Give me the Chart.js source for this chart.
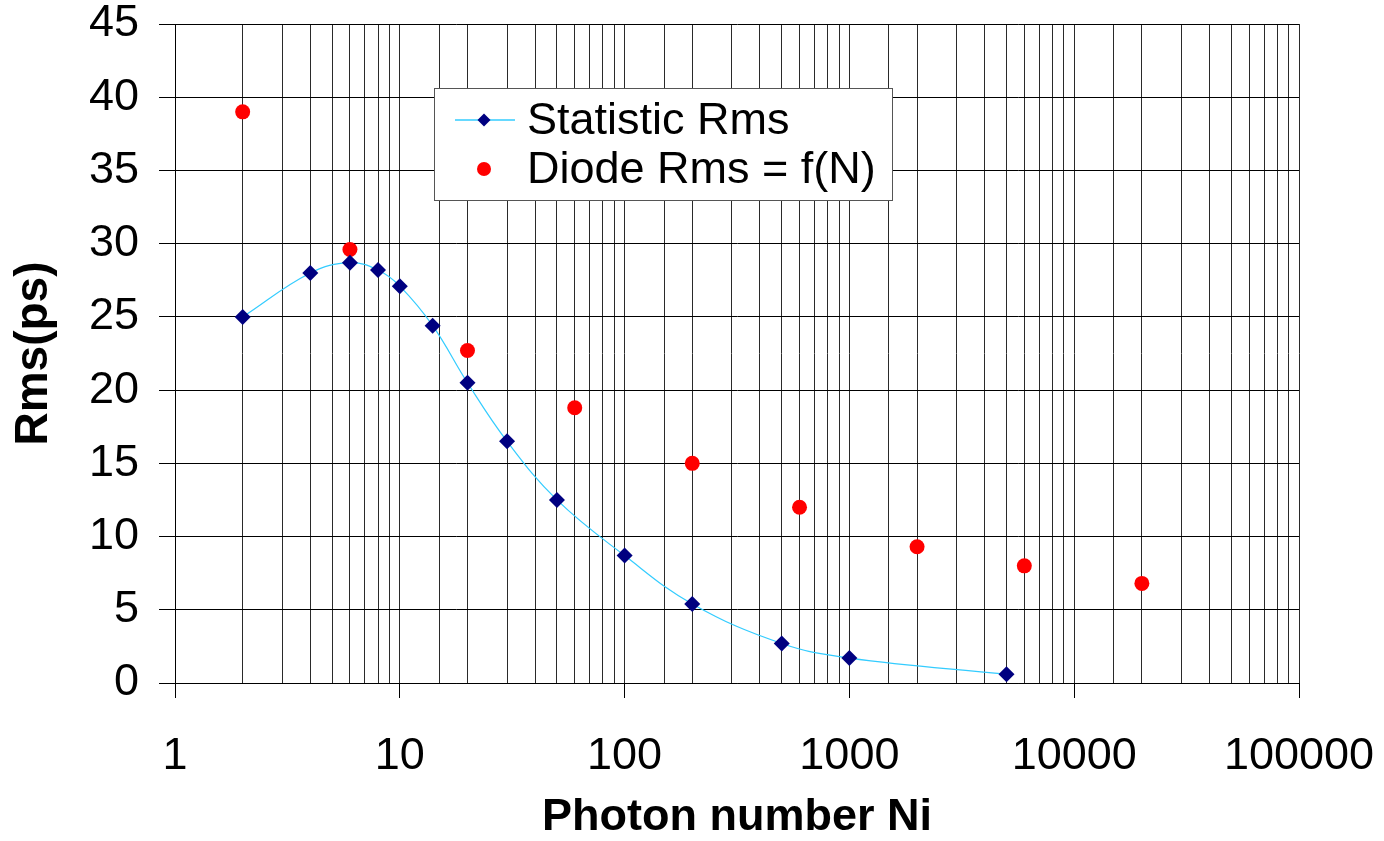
<!DOCTYPE html>
<html>
<head>
<meta charset="utf-8">
<script src="https://cdn.jsdelivr.net/npm/chart.js@4.4.1/dist/chart.umd.min.js"></script>
<style>
    html, body { margin: 0; padding: 0; background: #fff; }
    #wrap { width: 1384px; height: 841px; }
</style>
</head>
<body>
<div id="wrap"><canvas id="rmsChart" width="1384" height="841"></canvas></div>
<script>
// Statistic Rms (blue diamonds + smooth line)
const statN = [2, 4, 6, 8, 10, 14, 20, 30, 50, 100, 200, 500, 1000, 5000];
const statRms = [25.0, 28.0, 28.7, 28.2, 27.1, 24.4, 20.5, 16.5, 12.5, 8.7, 5.4, 2.7, 1.7, 0.6];

// Diode Rms = f(N) (red dots)
const diodeN = [2, 6, 20, 60, 200, 600, 2000, 6000, 20000];
const diodeRms = [39.0, 29.6, 22.7, 18.8, 15.0, 12.0, 9.3, 8.0, 6.8];

const xTickLabels = [1, 10, 100, 1000, 10000, 100000];
const yTicks = [0, 5, 10, 15, 20, 25, 30, 35, 40, 45];

const FONT = '"Liberation Sans", Arial, sans-serif';
const LINE_COLOR = '#33ccff';
const DIAMOND_COLOR = '#000080';
const DOT_COLOR = '#ff0000';

function toPoints(xs, ys) {
    return xs.map((x, i) => ({ x: x, y: ys[i] }));
}

// legend drawn inside the plot, like the original
const innerLegend = {
    id: 'innerLegend',
    afterDraw(chart) {
        const ctx = chart.ctx;
        const area = chart.chartArea;
        const left = area.left + 259;
        const top = area.top + 64;
        const w = 458;
        const h = 112;
        ctx.save();
        ctx.fillStyle = '#fff';
        ctx.fillRect(left, top, w, h);
        ctx.strokeStyle = '#555';
        ctx.lineWidth = 1;
        ctx.strokeRect(left + 0.5, top + 0.5, w, h);

        const row1 = top + 32;
        const row2 = top + 81;
        const symX = left + 50;

        // line sample
        ctx.strokeStyle = LINE_COLOR;
        ctx.lineWidth = 1.5;
        ctx.beginPath();
        ctx.moveTo(left + 21, row1);
        ctx.lineTo(left + 81, row1);
        ctx.stroke();

        // diamond
        ctx.fillStyle = DIAMOND_COLOR;
        ctx.beginPath();
        ctx.moveTo(symX, row1 - 6.5);
        ctx.lineTo(symX + 6.5, row1);
        ctx.lineTo(symX, row1 + 6.5);
        ctx.lineTo(symX - 6.5, row1);
        ctx.closePath();
        ctx.fill();

        // dot
        ctx.fillStyle = DOT_COLOR;
        ctx.beginPath();
        ctx.arc(symX, row2, 7, 0, Math.PI * 2);
        ctx.fill();

        ctx.fillStyle = '#000';
        ctx.font = '45px ' + FONT;
        ctx.textBaseline = 'middle';
        ctx.textAlign = 'left';
        ctx.fillText(chart.data.datasets[0].label, left + 93, row1 + 2);
        ctx.fillText(chart.data.datasets[1].label, left + 93, row2 + 2);
        ctx.restore();
    }
};

new Chart(document.getElementById('rmsChart'), {
    type: 'scatter',
    data: {
        datasets: [
            {
                label: 'Statistic Rms',
                data: toPoints(statN, statRms),
                showLine: true,
                borderColor: LINE_COLOR,
                borderWidth: 1.2,
                tension: 0.4,
                pointStyle: 'rectRot',
                pointRadius: 8,
                pointBackgroundColor: DIAMOND_COLOR,
                pointBorderColor: DIAMOND_COLOR,
                pointBorderWidth: 0
            },
            {
                label: 'Diode Rms = f(N)',
                data: toPoints(diodeN, diodeRms),
                showLine: false,
                pointStyle: 'circle',
                pointRadius: 7.5,
                pointBackgroundColor: DOT_COLOR,
                pointBorderColor: DOT_COLOR,
                pointBorderWidth: 0
            }
        ]
    },
    options: {
        responsive: false,
        animation: false,
        layout: { padding: { left: 0, right: 85, top: 24, bottom: 0 } },
        plugins: {
            legend: { display: false },
            tooltip: { enabled: false }
        },
        scales: {
            x: {
                type: 'logarithmic',
                min: 1,
                max: 100000,
                afterFit(scale) {
                    scale.height = 158;
                    scale.paddingLeft = 0;
                    scale.paddingRight = 0;
                },
                border: { display: true, color: '#000', width: 1 },
                grid: {
                    color: '#2a2a2a',
                    lineWidth: 1,
                    tickLength: 15,
                    tickColor: (c) => xTickLabels.includes(c.tick && c.tick.value) ? '#000' : 'rgba(0,0,0,0)'
                },
                ticks: {
                    autoSkip: false,
                    maxRotation: 0,
                    padding: 32,
                    color: '#000',
                    font: { family: FONT, size: 45 },
                    callback: (v) => xTickLabels.includes(v) ? String(v) : ''
                },
                title: {
                    display: true,
                    text: 'Photon number Ni',
                    color: '#000',
                    font: { family: FONT, size: 45, weight: 'bold', lineHeight: 1 },
                    padding: { top: 0, bottom: 1 }
                }
            },
            y: {
                type: 'linear',
                min: 0,
                max: 45,
                afterFit(scale) {
                    scale.width = 175;
                    scale.paddingTop = 0;
                    scale.paddingBottom = 0;
                },
                afterBuildTicks(scale) { scale.ticks = yTicks.map(v => ({ value: v })); },
                border: { display: true, color: '#000', width: 1 },
                grid: {
                    color: '#000',
                    lineWidth: 1,
                    tickLength: 16,
                    tickColor: '#000'
                },
                ticks: {
                    padding: 20,
                    color: '#000',
                    font: { family: FONT, size: 45 }
                },
                title: {
                    display: true,
                    text: 'Rms(ps)',
                    color: '#000',
                    font: { family: FONT, size: 46, weight: 'bold', lineHeight: 1 },
                    padding: { top: 11, bottom: 0 }
                }
            }
        }
    },
    plugins: [innerLegend]
});
</script>
</body>
</html>
